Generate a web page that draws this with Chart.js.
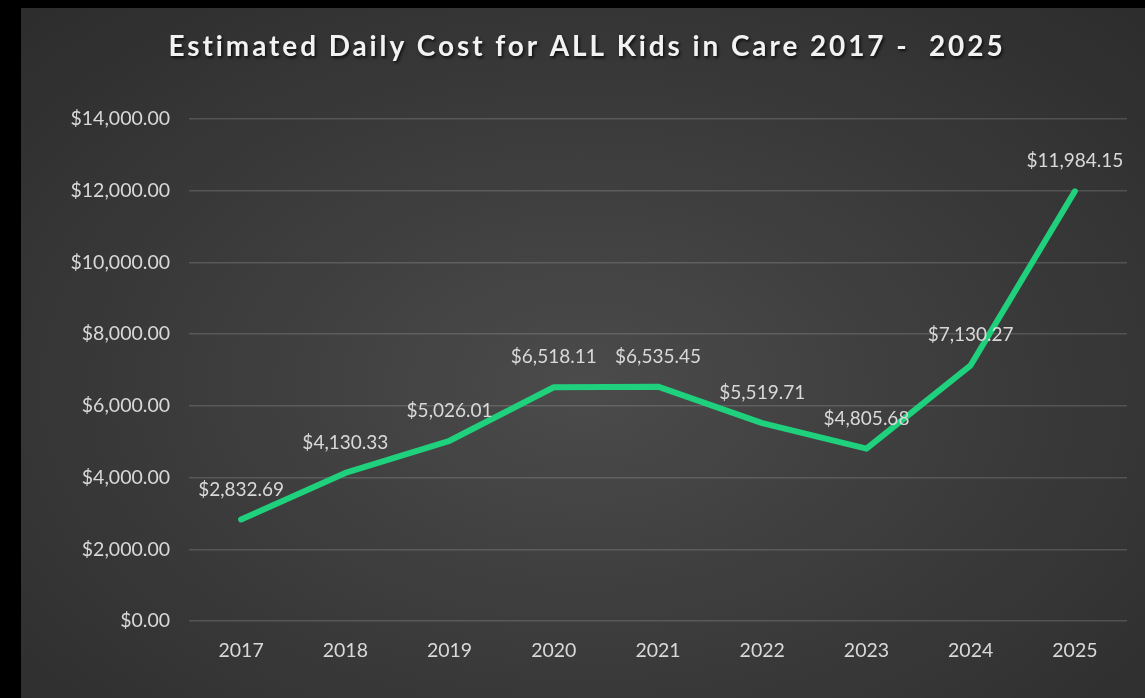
<!DOCTYPE html>
<html>
<head>
<meta charset="utf-8">
<script src="https://cdn.jsdelivr.net/npm/chart.js@4"></script>
<style>
  html, body { margin:0; padding:0; background:#000; width:1145px; height:698px; overflow:hidden; }
  #wrap { position:absolute; left:21px; top:8px; width:1124px; height:690px;
    background: radial-gradient(ellipse 75% 80% at 50% 55%, #4b4b4b 0%, #3c3c3c 45%, #2b2b2b 100%); }
  canvas { display:block; }
</style>
</head>
<body>
<div id="wrap"><canvas id="c" width="1124" height="690"></canvas></div>
<script>
const chartTitle = 'Estimated Daily Cost for ALL Kids in Care 2017 -  2025';
const years = ['2017','2018','2019','2020','2021','2022','2023','2024','2025'];
const dailyCost = [2832.69, 4130.33, 5026.01, 6518.11, 6535.45, 5519.71, 4805.68, 7130.27, 11984.15];
const yTickValues = [0, 2000, 4000, 6000, 8000, 10000, 12000, 14000];

const money = v => '$' + v.toLocaleString('en-US', {minimumFractionDigits:2, maximumFractionDigits:2});
const FONT = 'Lato, "Open Sans", sans-serif';

const titlePlugin = {
  id: 'shadowTitle',
  afterDraw(chart) {
    const ctx = chart.ctx;
    ctx.save();
    ctx.font = 'bold 28px ' + FONT;
    ctx.fillStyle = '#f2f2f2';
    ctx.textAlign = 'center';
    ctx.textBaseline = 'middle';
    if ('letterSpacing' in ctx) ctx.letterSpacing = '2.9px';
    ctx.shadowColor = 'rgba(0,0,0,0.7)';
    ctx.shadowOffsetX = 1.5; ctx.shadowOffsetY = 2; ctx.shadowBlur = 3;
    ctx.fillText(chartTitle, chart.width/2 + 4, 39);
    ctx.restore();
  }
};

const labelPlugin = {
  id: 'pointLabels',
  afterDatasetsDraw(chart) {
    const ctx = chart.ctx;
    const meta = chart.getDatasetMeta(0);
    ctx.save();
    ctx.font = '19px ' + FONT;
    ctx.fillStyle = '#d9d9d9';
    ctx.textAlign = 'center';
    ctx.textBaseline = 'middle';
    meta.data.forEach((pt, i) => {
      ctx.fillText(money(dailyCost[i]), pt.x, pt.y - 30);
    });
    ctx.restore();
  }
};

new Chart(document.getElementById('c'), {
  type: 'line',
  data: {
    labels: years,
    datasets: [{
      data: dailyCost,
      borderColor: '#1fd07c',
      borderWidth: 6,
      borderCapStyle: 'round',
      borderJoinStyle: 'round',
      pointRadius: 0,
      tension: 0,
      fill: false
    }]
  },
  options: {
    responsive: false,
    animation: false,
    devicePixelRatio: 1,
    layout: { padding: { top: 111, right: 18, bottom: 0, left: 0 } },
    plugins: { legend: { display: false }, tooltip: { enabled: false }, title: { display: false } },
    scales: {
      x: {
        offset: true,
        grid: { display: false, drawTicks: false },
        border: { display: false },
        ticks: { color: '#d9d9d9', font: { family: FONT, size: 19.5 }, padding: 18 },
        afterFit(s) { s.height = 77; }
      },
      y: {
        min: 0, max: 14000,
        afterBuildTicks(s) { s.ticks = yTickValues.map(v => ({ value: v })); },
        grid: { color: 'rgba(255,255,255,0.15)', lineWidth: 1.5, drawTicks: false },
        border: { display: false },
        ticks: { color: '#d9d9d9', font: { family: FONT, size: 19.5 }, padding: 19, callback: v => money(v) },
        afterFit(s) { s.width = 168; }
      }
    }
  },
  plugins: [titlePlugin, labelPlugin]
});
</script>
</body>
</html>
